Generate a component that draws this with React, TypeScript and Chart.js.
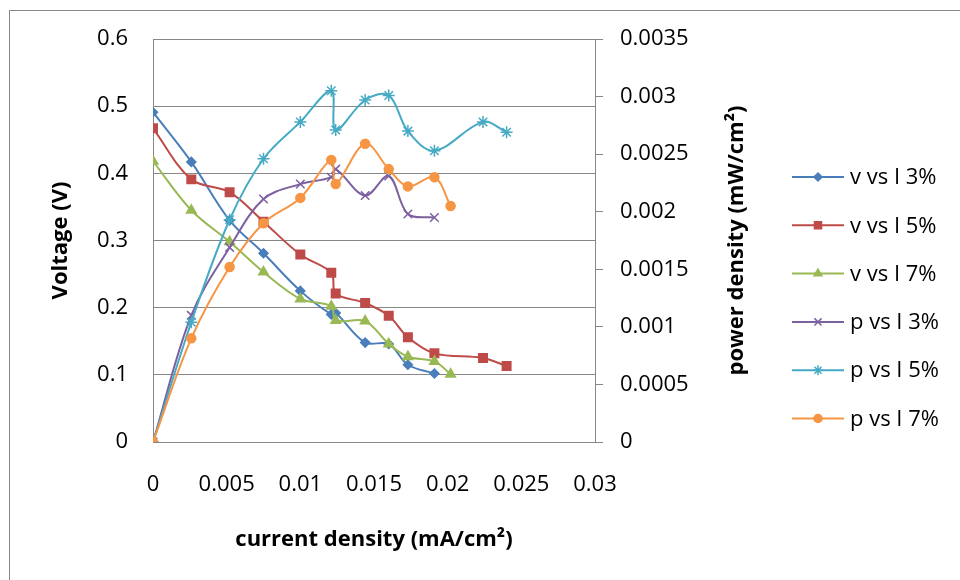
import React, { useEffect, useRef } from 'react';
import { Chart, registerables } from 'chart.js';
import { drawPoint } from 'chart.js/helpers';

Chart.register(...registerables);

// ---- data ----
const currentDensity3 = [0, 0.0026, 0.0052, 0.0075, 0.01, 0.0121, 0.0124, 0.0144, 0.016, 0.0173, 0.0191];
const currentDensity5 = [0, 0.0026, 0.0052, 0.0075, 0.01, 0.0121, 0.0124, 0.0144, 0.016, 0.0173, 0.0191, 0.0224, 0.024];
const currentDensity7 = [0, 0.0026, 0.0052, 0.0075, 0.01, 0.0121, 0.0124, 0.0144, 0.016, 0.0173, 0.0191, 0.0202];

const voltage3 = [0.491, 0.417, 0.330, 0.281, 0.225, 0.190, 0.192, 0.148, 0.146, 0.115, 0.102];
const voltage5 = [0.467, 0.391, 0.372, 0.328, 0.279, 0.252, 0.221, 0.207, 0.188, 0.156, 0.132, 0.125, 0.113];
const voltage7 = [0.418, 0.345, 0.298, 0.253, 0.213, 0.202, 0.181, 0.180, 0.146, 0.127, 0.120, 0.101];

const power3 = [0, 0.00110, 0.00169, 0.00211, 0.00224, 0.00230, 0.00237, 0.00214, 0.00231, 0.00198, 0.00195];
const power5 = [0, 0.00104, 0.00193, 0.00246, 0.00278, 0.00305, 0.00271, 0.00297, 0.00301, 0.00270, 0.00253, 0.00278, 0.00269];
const power7 = [0, 0.00090, 0.00152, 0.00190, 0.00212, 0.00245, 0.00224, 0.00259, 0.00237, 0.00222, 0.00230, 0.00205];

const seriesNames = ['v vs I 3%', 'v vs I 5%', 'v vs I 7%', 'p vs I 3%', 'p vs I 5%', 'p vs I 7%'];

const xTickLabels = ['0', '0.005', '0.01', '0.015', '0.02', '0.025', '0.03'];
const yTickLabels = ['0', '0.1', '0.2', '0.3', '0.4', '0.5', '0.6'];
const y1TickLabels = ['0', '0.0005', '0.001', '0.0015', '0.002', '0.0025', '0.003', '0.0035'];

const xTitle = 'current density (mA/cm²)';
const yTitle = 'Voltage (V)';
const y1Title = 'power density (mW/cm²)';

// ---- styles ----
const COLORS = ['#4A7EBB', '#BE4B48', '#98B954', '#7D60A0', '#46AAC5', '#F69544'];
const STYLES = ['rectRot', 'rect', 'triangle', 'crossRot', 'star', 'circle'];
const RADII = [4.5, 6, 5.5, 6, 6, 4.5];
const LEGEND_RADII = [4, 5, 4.5, 5, 5, 4];
const GRID = '#878787';
const FONT = '"Open Sans", sans-serif';

const makePoints = (xs: number[], ys: number[]) => ys.map((y, i) => ({ x: xs[i], y }));

const seriesData = [
  { xs: currentDensity3, ys: voltage3, axis: 'y' },
  { xs: currentDensity5, ys: voltage5, axis: 'y' },
  { xs: currentDensity7, ys: voltage7, axis: 'y' },
  { xs: currentDensity3, ys: power3, axis: 'y1' },
  { xs: currentDensity5, ys: power5, axis: 'y1' },
  { xs: currentDensity7, ys: power7, axis: 'y1' },
];

const decorPlugin = {
  id: 'decor',
  beforeDraw(chart: any) {
    const ctx = chart.ctx;
    ctx.save();
    ctx.strokeStyle = GRID;
    ctx.lineWidth = 1;
    ctx.strokeRect(9.5, 10.5, 2000, 2000);
    ctx.restore();
  },
  afterDraw(chart: any) {
    const ctx = chart.ctx;
    const area = chart.chartArea;
    // right axis title, reading bottom-to-top
    ctx.save();
    ctx.translate(743, (area.top + area.bottom) / 2);
    ctx.rotate(-Math.PI / 2);
    ctx.fillStyle = '#000';
    ctx.font = `bold 22px ${FONT}`;
    ctx.textAlign = 'center';
    ctx.textBaseline = 'alphabetic';
    ctx.fillText(y1Title, 0, 0);
    ctx.restore();

    // legend
    const x0 = 792, x1 = 844, tx = 850, top = 177, gap = 48.3;
    seriesNames.forEach((name, i) => {
      const y = top + i * gap;
      ctx.save();
      ctx.strokeStyle = COLORS[i];
      ctx.lineWidth = 2;
      ctx.beginPath();
      ctx.moveTo(x0, y);
      ctx.lineTo(x1, y);
      ctx.stroke();
      ctx.fillStyle = COLORS[i];
      ctx.strokeStyle = COLORS[i];
      ctx.lineWidth = 1.5;
      drawPoint(ctx, { pointStyle: STYLES[i] as any, radius: LEGEND_RADII[i], rotation: 0, borderWidth: 1.5 }, (x0 + x1) / 2, y);
      ctx.fillStyle = '#000';
      ctx.font = `22px ${FONT}`;
      ctx.textAlign = 'left';
      ctx.textBaseline = 'middle';
      ctx.fillText(name, tx, y + 1);
      ctx.restore();
    });
  },
};

export default function App() {
  const ref = useRef<HTMLCanvasElement>(null);

  useEffect(() => {
    const datasets = seriesData.map((s, i) => ({
      label: seriesNames[i],
      data: makePoints(s.xs, s.ys),
      yAxisID: s.axis,
      showLine: true,
      tension: 0.35,
      borderColor: COLORS[i],
      backgroundColor: COLORS[i],
      borderWidth: 2,
      pointStyle: STYLES[i],
      pointRadius: RADII[i],
      pointBorderWidth: 1.5,
      pointBorderColor: COLORS[i],
      pointBackgroundColor: COLORS[i],
      order: seriesNames.length - i,
    }));

    const tickFont = { family: FONT, size: 22 };
    const titleFont = { family: FONT, size: 22, weight: 'bold' as const };

    const chart = new Chart(ref.current as HTMLCanvasElement, {
      type: 'scatter',
      data: { datasets: datasets as any },
      options: {
        responsive: false,
        animation: false,
        devicePixelRatio: 1,
        layout: { padding: { left: 0, top: 39, right: 0, bottom: 0 } },
        plugins: { legend: { display: false }, tooltip: { enabled: false } },
        scales: {
          x: {
            type: 'linear',
            position: 'bottom',
            min: 0,
            max: 0.03,
            ticks: {
              stepSize: 0.005,
              autoSkip: false,
              maxRotation: 0,
              minRotation: 0,
              padding: 30,
              color: '#000',
              font: tickFont,
              callback: (_v: any, i: number) => xTickLabels[i],
            },
            grid: { display: false, drawTicks: false, tickLength: 0 },
            border: { display: true, color: GRID, width: 1 },
            title: { display: true, text: xTitle, color: '#000', font: titleFont, padding: { top: 0, bottom: 27 } },
            afterFit: (s: any) => { s.height = 138; },
          },
          y: {
            type: 'linear',
            position: 'left',
            min: 0,
            max: 0.6,
            ticks: {
              stepSize: 0.1,
              padding: 25,
              color: '#000',
              font: tickFont,
              callback: (_v: any, i: number) => yTickLabels[i],
            },
            grid: { color: GRID, lineWidth: 1, drawTicks: false, tickLength: 0 },
            border: { display: true, color: GRID, width: 1 },
            title: { display: true, text: yTitle, color: '#000', font: titleFont, padding: { top: 48, bottom: 0 } },
            afterFit: (s: any) => { s.width = 153; },
          },
          y1: {
            type: 'linear',
            position: 'right',
            min: 0,
            max: 0.0035,
            ticks: {
              stepSize: 0.0005,
              padding: 17,
              color: '#000',
              font: tickFont,
              callback: (_v: any, i: number) => y1TickLabels[i],
            },
            grid: { drawOnChartArea: false, drawTicks: true, tickLength: 8, color: GRID, lineWidth: 1 },
            border: { display: true, color: GRID, width: 1 },
            title: { display: false },
            afterFit: (s: any) => { s.width = 365; },
          },
        },
      } as any,
      plugins: [decorPlugin],
    });
    return () => chart.destroy();
  }, []);

  return (
    <div style={{ position: 'fixed', left: 0, top: 0, width: 960, height: 580, background: '#fff' }}>
      <canvas ref={ref} width={960} height={580} style={{ display: 'block', width: 960, height: 580 }} />
    </div>
  );
}
